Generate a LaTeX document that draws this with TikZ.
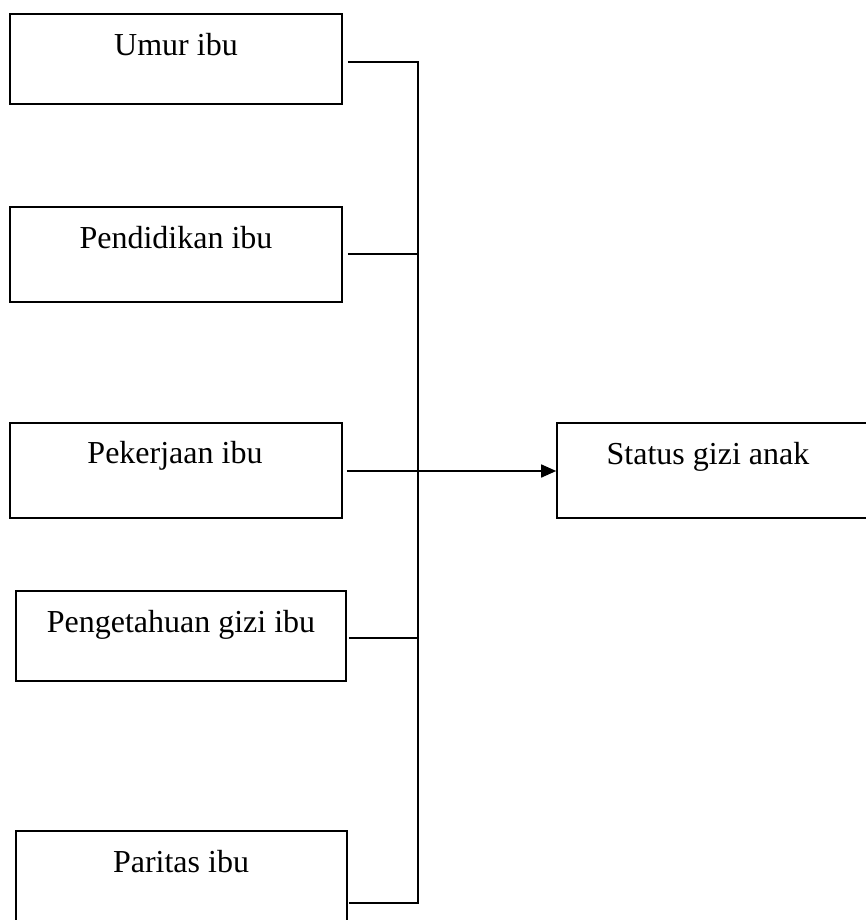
\documentclass[tikz,border=0pt]{standalone}
\usepackage{fontspec}
\setmainfont{Liberation Serif}
\usetikzlibrary{arrows.meta}
\begin{document}
\begin{tikzpicture}[x=1pt,y=1pt,
  box/.style={draw,line width=1.6pt,rectangle,inner sep=0pt},
  lbl/.style={anchor=base,inner sep=0pt,font=\fontsize{32}{38}\selectfont},
  conn/.style={line width=1.6pt}]
\useasboundingbox (0,0) rectangle (866,-920);
% boxes
\node[box,minimum width=332,minimum height=90] (b1) at (176,-59) {};
\node[box,minimum width=332,minimum height=95] (b2) at (176,-254.5) {};
\node[box,minimum width=332,minimum height=95] (b3) at (176,-470.5) {};
\node[box,minimum width=330,minimum height=90] (b4) at (181,-636) {};
\node[box,minimum width=331,minimum height=100] (b5) at (181.5,-881) {};
\node[box,minimum width=318,minimum height=95] (st) at (716,-470.5) {};
% labels
\node[lbl] (t1) at (176,-56) {Umur ibu};
\node[lbl] (t2) at (176,-248) {Pendidikan ibu};
\node[lbl] (t3) at (175,-463) {Pekerjaan ibu};
\node[lbl] (t4) at (181,-632) {Pengetahuan gizi ibu};
\node[lbl] (t5) at (181,-872) {Paritas ibu};
\node[lbl] (ts) at (708,-464) {Status gizi anak};
% junctions
\coordinate (j1) at (418,-62);
\coordinate (j2) at (418,-254);
\coordinate (j3) at (418,-471);
\coordinate (j4) at (418,-638);
\coordinate (j5) at (418,-903);
% connectors
\draw[conn,shorten <=5pt] (b1.east |- j1) -- (j1);
\draw[conn,shorten <=5pt] (b2.east |- j2) -- (j2);
\draw[conn,shorten <=2pt] (b4.east |- j4) -- (j4);
\draw[conn,shorten <=1pt] (b5.east |- j5) -- (j5);
\draw[conn,line cap=rect] (j1) -- (j5);
\draw[conn,shorten <=4pt,-{Triangle[length=15pt,width=13pt]}] (b3.east |- j3) -- (st.west |- j3);
\end{tikzpicture}
\end{document}
